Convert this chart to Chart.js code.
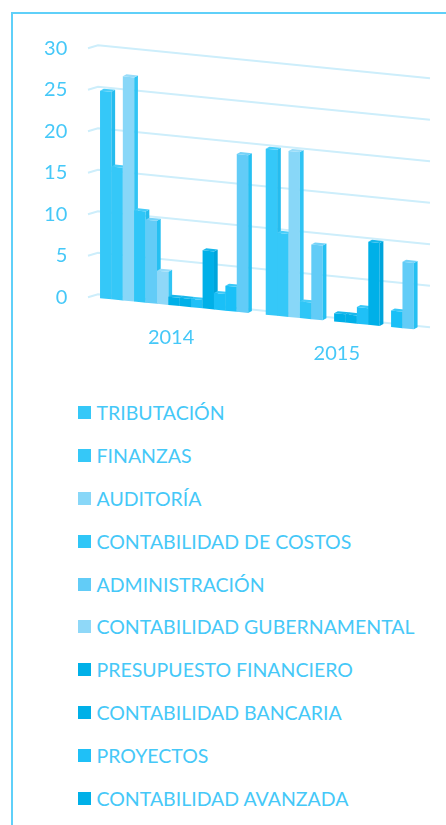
<!DOCTYPE html>
<html>
<head>
<meta charset="utf-8">
<style>
  html, body { margin: 0; padding: 0; background: #fff; overflow: hidden; }
  #page { position: relative; width: 446px; height: 825px; overflow: hidden; }
  #frame { position: absolute; left: 11px; top: 12px; width: 440px; height: 820px; border: 2px solid #5fd0f9; }
  #chart { position: absolute; left: 0; top: 0; }
  .item { position: absolute; left: 78px; height: 24px; line-height: 24px; white-space: nowrap;
          font: 19.5px Lato, sans-serif; color: #45c8f8; }
  .item i { position: absolute; left: 0; top: 5px; width: 13px; height: 13px; }
  .item span { position: absolute; left: 18.5px; top: 0; }
</style>
</head>
<body>
<div id="page">
  <div id="frame"></div>
  <canvas id="chart" width="446" height="400"></canvas>
  <div id="legend"></div>
</div>
<script src="https://cdn.jsdelivr.net/npm/chart.js@4/dist/chart.umd.min.js"></script>
<script>
const years = ['2014', '2015'];
const yTicks = [0, 5, 10, 15, 20, 25, 30];

// only the first ten names are visible, the legend is cut off in the original
const names = ['TRIBUTACIÓN', 'FINANZAS', 'AUDITORÍA', 'CONTABILIDAD DE COSTOS', 'ADMINISTRACIÓN',
    'CONTABILIDAD GUBERNAMENTAL', 'PRESUPUESTO FINANCIERO', 'CONTABILIDAD BANCARIA', 'PROYECTOS',
    'CONTABILIDAD AVANZADA'];

const tributacion = [25, 20];
const finanzas = [16, 10];
const auditoria = [27, 20];
const costos = [11, 2];
const administracion = [10, 9];
const gubernamental = [4, null];
const presupuesto = [1, 1];
const bancaria = [1, 1];
const proyectos = [1, 2];
const avanzada = [7, 10];
const serie11 = [2, null];
const serie12 = [3, 2];
const serie13 = [19, 8];

const allSeries = [tributacion, finanzas, auditoria, costos, administracion, gubernamental,
    presupuesto, bancaria, proyectos, avanzada, serie11, serie12, serie13];

const colors = ['#35c8f8', '#35c8f8', '#88d7f8', '#2fc6f7', '#62ccf7', '#8fd8f8',
    '#00b0e8', '#00b0e8', '#1fc0f7', '#00b0e8', '#1ac0f7', '#1ac0f7', '#62ccf7'];
const sideColors = ['#25bcee', '#25bcee', '#30c4f4', '#25bcee', '#25c0f2', '#30c4f4',
    '#00a5dc', '#00a5dc', '#12b5ea', '#00a5dc', '#12b5ea', '#12b5ea', '#25c0f2'];
const topColors = ['#48cdf9', '#48cdf9', '#98dcf9', '#48cdf9', '#74d2f8', '#98dcf9',
    '#18b8ec', '#18b8ec', '#38c8f8', '#18b8ec', '#38c8f8', '#38c8f8', '#74d2f8'];

const textColor = '#45c8f8';
const gridColor = '#cdeefb';
const slope = 0.0994;   // the floor runs downhill to the right
const depthX = 3.7;
const depthY = 2;

function shear(chart) {
    const ctx = chart.ctx;
    const x0 = chart.chartArea.left;
    ctx.translate(x0, 0);
    ctx.transform(1, slope, 0, 1, 0, 0);
    ctx.translate(-x0, 0);
}

function drawFaces(ctx, meta, i) {
    meta.data.forEach(function (bar, j) {
        if (allSeries[i][j] === null) return;
        const half = bar.width / 2;
        const r = bar.x + half;
        const l = bar.x - half;
        ctx.fillStyle = sideColors[i];
        ctx.beginPath();
        ctx.moveTo(r, bar.y);
        ctx.lineTo(r + depthX, bar.y - depthY - slope * depthX);
        ctx.lineTo(r + depthX, bar.base - depthY - slope * depthX);
        ctx.lineTo(r, bar.base);
        ctx.closePath();
        ctx.fill();
        ctx.fillStyle = topColors[i];
        ctx.beginPath();
        ctx.moveTo(l, bar.y);
        ctx.lineTo(r, bar.y);
        ctx.lineTo(r + depthX, bar.y - depthY - slope * depthX);
        ctx.lineTo(l + depthX, bar.y - depthY - slope * depthX);
        ctx.closePath();
        ctx.fill();
    });
}

// fake 3d look: grid + bars are drawn through a shear, faces are added on each bar
const fake3d = {
    id: 'fake3d',
    beforeDatasetsDraw(chart) {
        const ctx = chart.ctx;
        const y = chart.scales.y;
        const area = chart.chartArea;
        const wallX = area.left + 6.75;
        ctx.save();
        ctx.strokeStyle = gridColor;
        ctx.lineWidth = 2;
        y.ticks.forEach(function (t, i) {
            const py = y.getPixelForTick(i);
            ctx.beginPath();
            ctx.moveTo(88, py);
            ctx.lineTo(wallX, py - 3);
            ctx.lineTo(430, py - 3 + slope * (430 - wallX));
            ctx.stroke();
        });
        ctx.restore();
        // x labels sit on the sloped floor
        const x = chart.scales.x;
        ctx.save();
        ctx.fillStyle = textColor;
        ctx.font = '20px Lato, sans-serif';
        ctx.textAlign = 'center';
        ctx.textBaseline = 'middle';
        x.ticks.forEach(function (t, i) {
            const px = x.getPixelForTick(i) - 3;
            ctx.fillText(x.getLabelForValue(t.value), px, area.bottom + 32 + slope * (px - area.left));
        });
        ctx.restore();
    },
    // chart.js paints the last dataset first, here the first one has to go first
    beforeDatasetDraw() {
        return false;
    },
    afterDatasetsDraw(chart) {
        const ctx = chart.ctx;
        ctx.save();
        shear(chart);
        allSeries.forEach(function (values, i) {
            const meta = chart.getDatasetMeta(i);
            meta.controller.draw();
            drawFaces(ctx, meta, i);
        });
        ctx.restore();
    }
};

const datasets = allSeries.map(function (values, i) {
    return {
        label: names[i] || ('serie ' + (i + 1)),
        data: values,
        backgroundColor: colors[i],
        borderWidth: 0,
        barPercentage: 1,
        categoryPercentage: 0.894
    };
});

new Chart(document.getElementById('chart'), {
    type: 'bar',
    data: { labels: years, datasets: datasets },
    plugins: [fake3d],
    options: {
        responsive: false,
        animation: false,
        layout: { padding: { top: 48.3, right: 23.35, left: 0, bottom: 0 } },
        plugins: { legend: { display: false }, tooltip: { enabled: false } },
        scales: {
            x: {
                grid: { display: false, drawTicks: false },
                border: { display: false },
                ticks: { display: false },
                afterFit(scale) { scale.height = 102.7; }
            },
            y: {
                min: 0,
                max: 30,
                grid: { display: false, drawTicks: false },
                border: { display: false },
                afterFit(scale) { scale.width = 91.25; },
                afterBuildTicks(scale) { scale.ticks = yTicks.map(function (v) { return { value: v }; }); },
                ticks: { color: textColor, padding: 24, font: { family: 'Lato, sans-serif', size: 20 } }
            }
        }
    }
});

const legend = document.getElementById('legend');
names.forEach(function (name, i) {
    const item = document.createElement('div');
    item.className = 'item';
    item.style.top = (401.3 + i * 42.8) + 'px';
    item.innerHTML = '<i style="background:' + colors[i] + '"></i><span>' + name + '</span>';
    legend.appendChild(item);
});
</script>
</body>
</html>
